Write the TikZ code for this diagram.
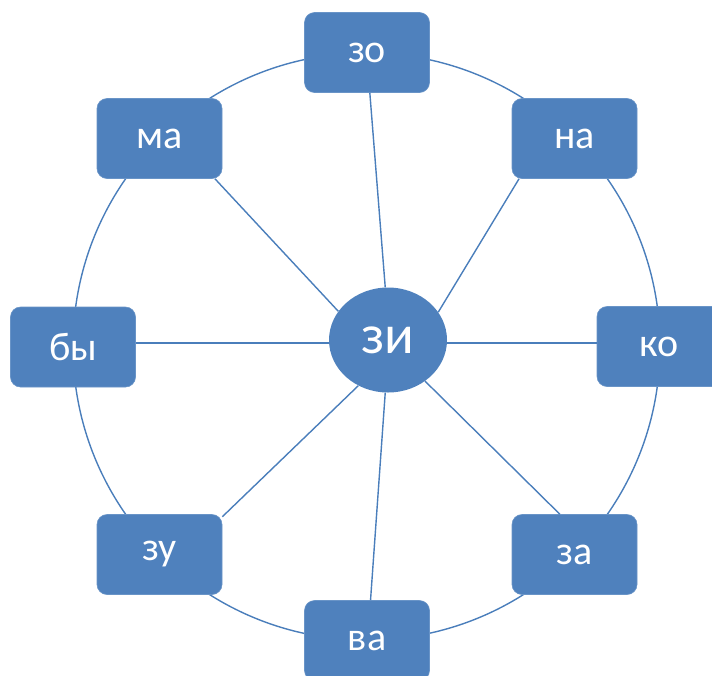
\documentclass[tikz,border=0pt]{standalone}
\usepackage{fontspec}
\setmainfont{Carlito}
\usetikzlibrary{shapes.geometric}
\definecolor{acc}{HTML}{4F81BD}
\definecolor{accline}{HTML}{4A7EBB}
\begin{document}
\begin{tikzpicture}[x=1pt,y=-1pt,
  box/.style={draw=acc!85!white, line width=0.6pt, fill=acc, rounded corners=10pt,
    minimum width=125pt, minimum height=80pt, text=white, inner sep=0pt,
    font=\fontsize{40}{48}\selectfont},
  hub/.style={ellipse, fill=acc, minimum width=118pt, minimum height=105pt,
    text=white, inner sep=0pt, font=\fontsize{55}{66}\selectfont},
  link/.style={draw=accline, line width=1.4pt}]
\useasboundingbox (0,0) rectangle (712,675);
\draw[link] (366.5,346.5) circle [radius=293.5pt];
\node[box] (zo) at (367,52.5) {зо};
\node[box] (na) at (574.5,138.5) {на};
\node[box] (ko) at (659.5,346.5) {ко};
\node[box] (za) at (574.5,554.5) {за};
\node[box] (va) at (367,640.5) {ва};
\node[box] (zu) at (159.5,554.5) {зу};
\node[box] (by) at (73,347) {бы};
\node[box] (ma) at (159.5,138.5) {ма};
\node[hub] (zi) at (388,340) {зи};
\draw[link] (zi.93.4) -- (zo.274.4);
\draw[link] (zi.29.7) -- (na.216.9);
\draw[link] (zi.-3) -- (zi.-3 -| ko.west);
\draw[link] (zi.312.8) -- (za.110.6);
\draw[link] (zi.267.7) -- (va.85.6);
\draw[link] (zi.237.5) -- (zu.31.7);
\draw[link] (zi.183) -- (zi.183 -| by.east);
\draw[link] (zi.150) -- (ma.-36.8);
\end{tikzpicture}
\end{document}
